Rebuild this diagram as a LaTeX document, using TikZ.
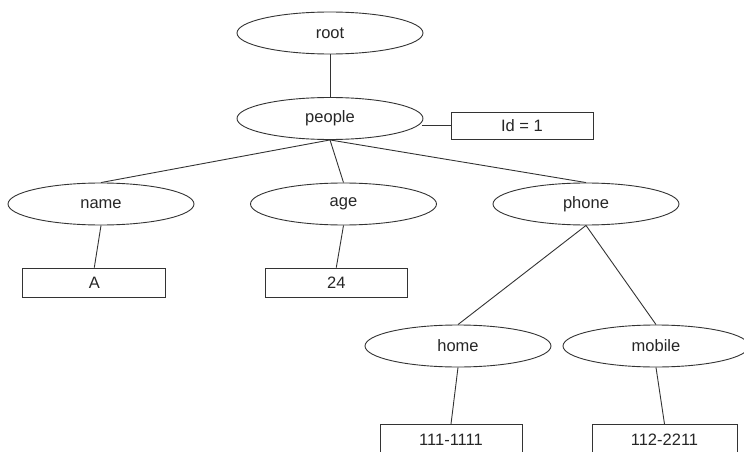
\documentclass[tikz,border=0pt]{standalone}
\usepackage{fontspec}
\setmainfont{Liberation Sans}
\usetikzlibrary{shapes.geometric}
\begin{document}
\begin{tikzpicture}[x=1pt,y=-1pt,
  every node/.style={font=\fontsize{16.5}{19}\selectfont, text=black!85},
  ell/.style={draw=black!80, line width=0.9pt, ellipse, minimum width=186pt, minimum height=42pt, inner sep=0pt},
  vbox/.style={draw=black!80, line width=0.9pt, rectangle, minimum width=142pt, minimum height=28pt, inner sep=0pt},
  conn/.style={draw=black!80, line width=0.9pt}]
\useasboundingbox (0,0) rectangle (744,452);
\node[ell] (root) at (330,33) {root};
\node[ell] (people) at (330,118.5) {people};
\node[vbox, minimum height=27pt] (id) at (522,125.5) {Id = 1};
\node[ell] (name) at (101,204) {name};
\node[ell] (age) at (343.5,204) {age};
\node[ell] (phone) at (586,204) {phone};
\node[vbox, minimum width=143pt, minimum height=29pt] (a) at (94.3,282.5) {A};
\node[vbox, minimum height=29pt] (n24) at (336.3,282.5) {24};
\node[ell] (home) at (458,346) {home};
\node[ell] (mobile) at (656,346) {mobile};
\node[vbox, minimum height=30pt] (h1) at (451,439.5) {111-1111};
\node[vbox, minimum width=145pt, minimum height=30pt] (m1) at (664.5,439.5) {112-2211};
\path[conn] (root.south) -- (people.north);
\path[conn] (id.west -| people.east) ++(-1.5,0) coordinate (pe) -- (id.west);
\path[conn] (people.south) -- (name.north);
\path[conn] (people.south) -- (age.north);
\path[conn] (people.south) -- (phone.north);
\path[conn] (name.south) -- (a.north);
\path[conn] (age.south) -- (n24.north);
\path[conn] (phone.south) -- (home.north);
\path[conn] (phone.south) -- (mobile.north);
\path[conn] (home.south) -- (h1.north);
\path[conn] (mobile.south) -- (m1.north);
\end{tikzpicture}
\end{document}
